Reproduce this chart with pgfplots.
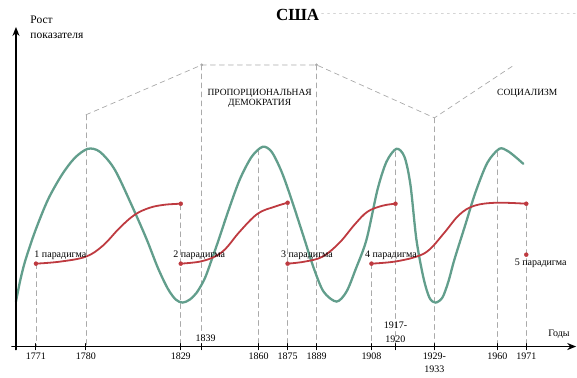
\documentclass[border=0pt]{standalone}
\usepackage{fontspec}
\setmainfont{Liberation Serif}
\usepackage{pgfplots}
\pgfplotsset{compat=1.18}
\usetikzlibrary{arrows.meta}
\definecolor{cgreen}{HTML}{629E8C}
\definecolor{cred}{HTML}{BE3A40}
\definecolor{cdash}{HTML}{AAAAAA}
\begin{document}
\begin{tikzpicture}
\begin{axis}[
  scale only axis, width=577pt, height=378pt,
  xmin=0, xmax=577, ymin=0, ymax=378, y dir=reverse,
  hide axis, clip=false,
  every axis plot/.append style={line cap=round},
]
\path (axis cs:0,0) rectangle (axis cs:577,378);
% dashed guides
\pgfplotsset{dl/.style={cdash, line width=0.7pt, dash pattern=on 5pt off 4pt, no markers}}
\addplot[dl] coordinates {(36,264) (36,347)};
\addplot[dl] coordinates {(86,115) (86,347)};
\addplot[dl] coordinates {(181,205) (181,347)};
\addplot[dl] coordinates {(202,65) (202,347)};
\addplot[dl] coordinates {(259,150) (259,347)};
\addplot[dl] coordinates {(288,204) (288,347)};
\addplot[dl] coordinates {(317,65) (317,347)};
\addplot[dl] coordinates {(372,264) (372,347)};
\addplot[dl] coordinates {(396,152) (396,347)};
\addplot[dl] coordinates {(435,118) (435,347)};
\addplot[dl] coordinates {(498,152) (498,347)};
\addplot[dl] coordinates {(527,205) (527,347)};
\addplot[dl] coordinates {(86,115) (202,65) (317,65) (435,118) (515,65)};
\addplot[only marks, mark=*, mark size=1.2pt, cdash] coordinates {(202,65) (317,65)};
\addplot[cdash!50, line width=0.6pt, dash pattern=on 2pt off 4pt, no markers] coordinates {(322,13) (577,13)};
% green curve
\addplot[cgreen, line width=2.3pt, smooth, tension=0.5, no markers] coordinates {
(16,302) (20,282) (25,262) (35,232) (48,200) (62,175) (75,158) (88,149) (100,152) (115,170) (133,208) (147,240) (158,268) (168,289) (176,300) (183,303) (190,300) (197,293) (205,279) (212,260) (219,240) (228,213) (240,180) (252,157) (263,147) (272,152) (282,172) (292,200) (305,240) (314,268) (324,292) (337,302) (347,292) (356,270) (367,240) (378,190) (387,162) (397,149) (405,157) (411,185) (417,240) (424,278) (430,298) (436,303) (443,298) (449,282) (455,260) (466,225) (476,193) (488,163) (500,149) (508,151) (516,157) (524,164)};
% red curves
\pgfplotsset{rl/.style={cred, line width=1.8pt, smooth, tension=0.6, no markers}}
\addplot[rl] coordinates {(36,264) (60,262) (86,257) (103,246) (120,228) (135,215) (150,208) (165,205) (181,204)};
\addplot[rl] coordinates {(181,264) (200,262) (215,257) (226,249) (240,232) (258,214) (275,207) (288,203)};
\addplot[rl] coordinates {(288,264) (305,262) (323,257) (340,243) (355,225) (368,212) (383,206) (396,204)};
\addplot[rl] coordinates {(372,264) (395,262) (417,257) (430,250) (445,233) (460,215) (475,206) (497,203) (527,204)};
\addplot[only marks, mark=*, mark size=2pt, cred] coordinates {(36,264) (181,204) (181,264) (288,203) (288,264) (396,204) (372,264) (527,204) (527,255)};
% axes
\addplot[black, line width=1.6pt, no markers, -{Stealth[length=9pt,width=7pt]}] coordinates {(12,347) (577,347)};
\addplot[black, line width=1.6pt, no markers, -{Stealth[length=9pt,width=7pt]}] coordinates {(16,350) (16,27)};
\foreach \x in {16,36,86,181,202,259,288,317,372,396,435,498,527} {
  \edef\tmp{\noexpand\addplot[black, line width=1pt, no markers] coordinates {(\x,344) (\x,350)};}
  \tmp
}
% texts
\pgfplotsset{every node/.append style={font=\fontsize{10.5}{11}\selectfont, inner sep=0pt}}
\node at (axis cs:36,357) {1771};
\node at (axis cs:86,357) {1780};
\node at (axis cs:181,357) {1829};
\node at (axis cs:259,357) {1860};
\node at (axis cs:288,357) {1875};
\node at (axis cs:317,357) {1889};
\node at (axis cs:372,357) {1908};
\node at (axis cs:435,357) {1929-};
\node at (axis cs:435,370) {1933};
\node at (axis cs:498,357) {1960};
\node at (axis cs:527,357) {1971};
\node at (axis cs:206,339) {1839};
\node at (axis cs:396,326) {1917-};
\node at (axis cs:396,340) {1920};
\node[anchor=east] at (axis cs:574,335) {Годы};
\node[anchor=west] at (axis cs:31,256) {1 парадигма};
\node[anchor=west] at (axis cs:170,256) {2 парадигма};
\node[anchor=west] at (axis cs:278,256) {3 парадигма};
\node[anchor=west] at (axis cs:362,256) {4 парадигма};
\node[anchor=west] at (axis cs:512,264) {5 парадигма};
\node[font=\fontsize{9.5}{10}\selectfont] at (axis cs:260,93) {ПРОПОРЦИОНАЛЬНАЯ};
\node[font=\fontsize{9.5}{10}\selectfont] at (axis cs:260,104) {ДЕМОКРАТИЯ};
\node[font=\fontsize{9.5}{10}\selectfont] at (axis cs:528,93) {СОЦИАЛИЗМ};
\node[font=\fontsize{11.5}{13}\selectfont, anchor=west] at (axis cs:27,20) {Рост};
\node[font=\fontsize{11.5}{13}\selectfont, anchor=west] at (axis cs:27,36) {показателя};
\node[font=\fontsize{17}{19}\selectfont\bfseries] at (axis cs:298,15) {США};
\end{axis}
\end{tikzpicture}
\end{document}
